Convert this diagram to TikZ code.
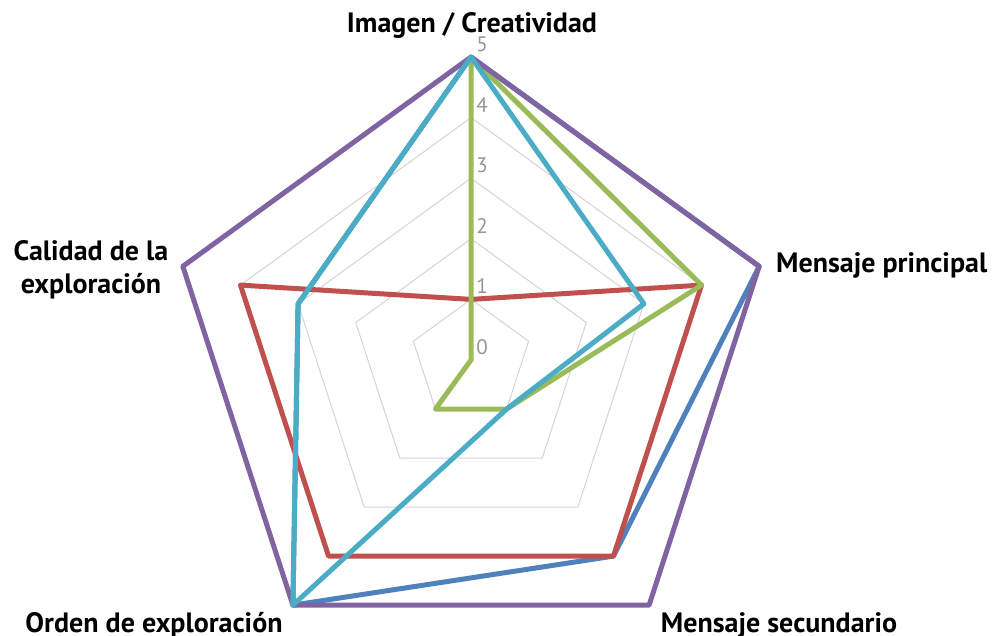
\documentclass[tikz,border=0pt]{standalone}
\usepackage{fontspec}
\setmainfont{PT Sans}
\definecolor{gridgray}{RGB}{212,212,212}
\definecolor{tickgray}{RGB}{150,150,150}
\definecolor{serblue}{HTML}{4F81BD}
\definecolor{serred}{HTML}{C0504D}
\definecolor{sergreen}{HTML}{9BBB59}
\definecolor{serpurple}{HTML}{8064A2}
\definecolor{serteal}{HTML}{4BACC6}
\begin{document}
\begin{tikzpicture}[x=1pt,y=1pt,
  gridring/.style={draw=gridgray, line width=1pt},
  series/.style={line width=5pt, line join=round},
  catlabel/.style={font=\bfseries\fontsize{28}{33}\selectfont, inner sep=0pt},
  ticklabel/.style={font=\fontsize{21}{21}\selectfont, text=tickgray, inner sep=0pt}]
\useasboundingbox (0,0) rectangle (992,635);
\pgfmathsetmacro\ru{60.6}
% one radar series: values on the five axes, clockwise from the top
\newcommand\radarseries[6]{%
  \draw[series,#1] (90:{#2*\ru}) -- (18:{#3*\ru}) -- (-54:{#4*\ru})
    -- (-126:{#5*\ru}) -- (162:{#6*\ru}) -- cycle;}
\begin{scope}[shift={(471,275)}]
  % grid rings for the values 1 to 5
  \foreach \k in {1,...,5}
    \draw[gridring] (90:{\k*\ru}) -- (18:{\k*\ru}) -- (-54:{\k*\ru})
      -- (-126:{\k*\ru}) -- (162:{\k*\ru}) -- cycle;
  % value labels along the top axis
  \foreach \k in {0,...,5}
    \node[ticklabel] (tick\k) at (11,{\k*\ru+13}) {\k};
  % data series
  \radarseries{serblue}{5}{5}{4}{5}{3}
  \radarseries{serred}{1}{4}{4}{4}{4}
  \radarseries{sergreen}{5}{4}{1}{1}{0}
  \radarseries{serpurple}{5}{5}{5}{5}{5}
  \radarseries{serteal}{5}{3}{1}{5}{3}
\end{scope}
% axis titles
\node[catlabel, anchor=base] (imagen) at (472,602) {Imagen / Creatividad};
\node[catlabel, anchor=base west] (principal) at (776,362) {Mensaje principal};
\node[catlabel, anchor=base] (secundario) at (779,3) {Mensaje secundario};
\node[catlabel, anchor=base] (orden) at (154,3) {Orden de exploración};
\node[catlabel, align=center] (calidad) at (91,365) {Calidad de la\\exploración};
\end{tikzpicture}
\end{document}
